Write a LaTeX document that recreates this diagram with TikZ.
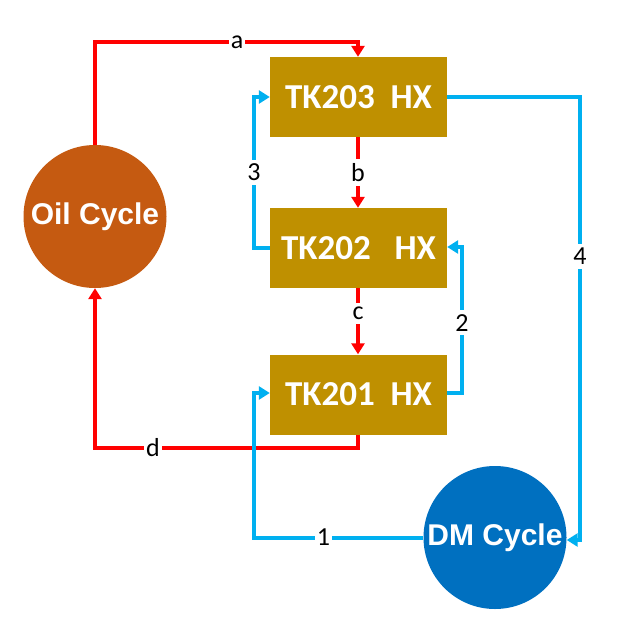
\documentclass[tikz,border=0pt]{standalone}
\usepackage{fontspec}
\setmainfont{Carlito}
\newfontfamily\arialfont{Liberation Sans}
\usetikzlibrary{arrows.meta}
\definecolor{oilred}{HTML}{FF0000}
\definecolor{dmblue}{HTML}{00B0F0}
\definecolor{boxgold}{HTML}{BF9000}
\definecolor{oilbrown}{HTML}{C55A11}
\definecolor{dmdark}{HTML}{0070C0}
\tikzset{
  hxbox/.style={fill=boxgold, minimum width=177pt, minimum height=80pt, inner sep=0pt,
    text=white, font=\fontsize{35}{38}\selectfont\bfseries},
  cyclecirc/.style={circle, minimum size=143pt, inner sep=0pt, text=white,
    font=\arialfont\fontsize{30}{33}\selectfont\bfseries},
  tip/.style={-{Triangle[length=11pt,width=13pt]}},
  oilline/.style={draw=oilred, line width=4pt},
  dmline/.style={draw=dmblue, line width=4pt},
  lbl/.style={fill=white, inner xsep=2pt, inner ysep=4pt, text=black, font=\fontsize{26}{28}\selectfont}
}
\begin{document}
\begin{tikzpicture}[x=1pt,y=-1pt]
\useasboundingbox (0,0) rectangle (617,631);
\fill[white] (0,0) rectangle (617,631);
% nodes
\node[hxbox] (tk203) at (358.5,97) {TK203~~HX};
\node[hxbox] (tk202) at (358.5,248) {TK202~~~HX};
\node[hxbox] (tk201) at (358.5,394.5) {TK201~~HX};
\node[cyclecirc, fill=oilbrown] (oil) at (95,216.5) {Oil Cycle};
\node[cyclecirc, fill=dmdark] (dm) at (495,537.5) {DM Cycle};
% coordinates
\coordinate (aTop) at (95,42);
\coordinate (aRight) at (358,42);
\coordinate (dDown) at (358,448);
\coordinate (dLeft) at (95,448);
\coordinate (c3a) at (254,248);
\coordinate (c3b) at (254,97);
\coordinate (c2a) at (462,393);
\coordinate (c2b) at (462,247);
\coordinate (c4a) at (580,97);
\coordinate (c4b) at (580,540);
\coordinate (c1a) at (254,537.5);
\coordinate (c1b) at (254,393);
% oil lines
\draw[oilline, tip] (oil.north) -- (aTop) -- node[lbl, pos=0.54]{a} (aRight) -- (tk203.north -| aRight);
\draw[oilline, tip] (tk203.south -| aRight) -- node[lbl]{b} (tk202.north -| aRight);
\draw[oilline, tip] (tk202.south -| aRight) -- node[lbl, pos=0.38]{c} (tk201.north -| aRight);
\draw[oilline, tip] (tk201.south -| dDown) -- (dDown) -- node[lbl, pos=0.78]{d} (dLeft) -- (oil.south);
% dm lines
\draw[dmline, tip] (tk202.west |- c3a) -- (c3a) -- node[lbl, pos=0.5]{3} (c3b) -- (tk203.west |- c3b);
\draw[dmline, tip] (tk201.east |- c2a) -- (c2a) -- node[lbl, pos=0.48]{2} (c2b) -- (tk202.east |- c2b);
\draw[dmline, tip] (tk203.east |- c4a) -- (c4a) -- node[lbl, pos=0.36]{4} (c4b) -- (dm.east |- c4b);
\draw[dmline, tip] (dm.west) -- node[lbl, pos=0.59]{1} (c1a) -- (c1b) -- (tk201.west |- c1b);
\end{tikzpicture}
\end{document}
